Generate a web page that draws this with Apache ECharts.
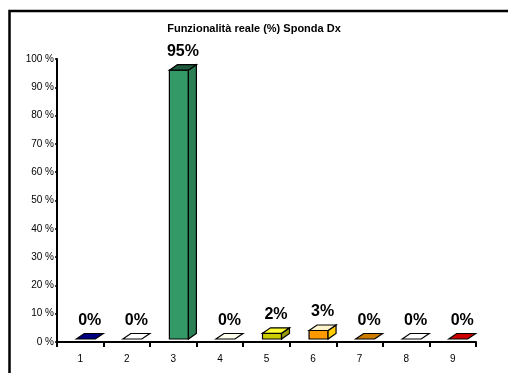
<!DOCTYPE html>
<html>
<head>
<meta charset="utf-8">
<script src="https://cdn.jsdelivr.net/npm/echarts@6/dist/echarts.min.js"></script>
<style>
  html, body { margin: 0; padding: 0; background: #fff; overflow: hidden; }
  #chart { width: 508px; height: 373px; }
</style>
</head>
<body>
<div id="chart"></div>
<script>
// Categories (sections) and measured functionality, in percent
const categories = ['1', '2', '3', '4', '5', '6', '7', '8', '9'];
const values = [0, 0, 95, 0, 2, 3, 0, 0, 0];
const yTicks = [0, 10, 20, 30, 40, 50, 60, 70, 80, 90, 100];
const titleText = 'Funzionalità reale (%) Sponda Dx';

// Face colours per bar: [front, top, side]
const palette = [
  ['#000080', '#000080', '#000050'],
  ['#ffffff', '#ffffff', '#3366cc'],
  ['#339966', '#1f5a3c', '#2a7f55'],
  ['#ffffcc', '#ffffee', '#99cc33'],
  ['#cccc00', '#ffff33', '#999900'],
  ['#ff9900', '#fff4cc', '#ffcc00'],
  ['#cc7a00', '#cc7a00', '#995c00'],
  ['#ffffff', '#ffffff', '#ff6600'],
  ['#cc0000', '#cc0000', '#990000']
];

const chart = echarts.init(document.getElementById('chart'), null, { renderer: 'canvas' });

function renderBar(params, api) {
  const i = api.value(0);
  const v = api.value(1);
  const base = api.coord([i, 0]);
  const top = api.coord([i, v]);
  const ox = 5.5, oy = -3;   // bars stand a little behind the front axis
  const w = 19, dx = 8, dy = 5.5;
  const x0 = base[0] - w / 2 + ox, x1 = x0 + w;
  const yb = base[1] + oy, yt = top[1] + oy;
  const c = palette[params.dataIndex];
  const stroke = { stroke: '#000', lineWidth: 1.2 };
  const children = [];
  if (yb - yt > 0.5) {
    children.push({
      type: 'rect',
      shape: { x: x0, y: yt, width: w, height: yb - yt },
      style: Object.assign({ fill: c[0] }, stroke)
    });
    children.push({
      type: 'polygon',
      shape: { points: [[x1, yt], [x1 + dx, yt - dy], [x1 + dx, yb - dy], [x1, yb]] },
      style: Object.assign({ fill: c[2] }, stroke)
    });
  }
  children.push({
    type: 'polygon',
    shape: { points: [[x0, yt], [x0 + dx, yt - dy], [x1 + dx, yt - dy], [x1, yt]] },
    style: Object.assign({ fill: c[1] }, stroke)
  });
  children.push({
    type: 'text',
    style: {
      text: v + '%',
      x: (x0 + x1) / 2 + dx / 2,
      y: yt - dy - 5,
      align: 'center',
      verticalAlign: 'bottom',
      fill: '#000',
      font: 'bold 16px "Liberation Sans", Arial, sans-serif'
    }
  });
  return { type: 'group', children: children };
}

chart.setOption({
  animation: false,
  backgroundColor: '#fff',
  title: {
    text: titleText,
    left: 'center',
    top: 18,
    textStyle: { fontFamily: '"Liberation Sans", Arial, sans-serif', fontSize: 11, fontWeight: 'bold', color: '#000' }
  },
  graphic: [{
    type: 'rect',
    shape: { x: 9.5, y: 11, width: 560, height: 420 },
    style: { fill: 'none', stroke: '#000', lineWidth: 2.5 },
    silent: true
  }],
  grid: { left: 57, right: 32, top: 59, bottom: 31 },
  xAxis: {
    type: 'category',
    data: categories,
    boundaryGap: true,
    axisLine: { lineStyle: { color: '#000', width: 2 } },
    axisTick: { show: true, length: 5, lineStyle: { color: '#000', width: 2 }, alignWithLabel: false },
    axisLabel: { color: '#000', fontSize: 10, margin: 12, fontFamily: '"Liberation Sans", Arial, sans-serif' },
    splitLine: { show: false }
  },
  yAxis: {
    type: 'value',
    min: yTicks[0],
    max: yTicks[yTicks.length - 1],
    interval: yTicks[1] - yTicks[0],
    axisLine: { show: true, lineStyle: { color: '#000', width: 2 } },
    axisTick: { show: true, length: 2, lineStyle: { color: '#000', width: 1.5 } },
    axisLabel: { color: '#000', fontSize: 10, margin: 3, formatter: '{value} %', fontFamily: '"Liberation Sans", Arial, sans-serif' },
    splitLine: { show: false }
  },
  series: [{
    type: 'custom',
    renderItem: renderBar,
    encode: { x: 0, y: 1 },
    clip: false,
    data: values.map(function (v, i) { return [i, v]; })
  }]
});
</script>
</body>
</html>
